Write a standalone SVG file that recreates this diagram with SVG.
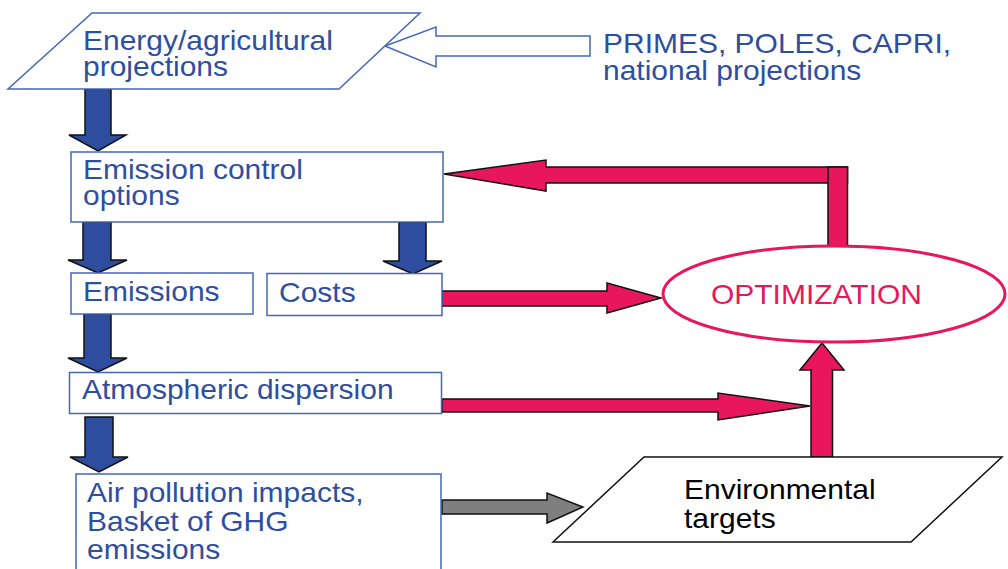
<svg xmlns="http://www.w3.org/2000/svg" width="1008" height="569" viewBox="0 0 1008 569">
<style>
.t{font-family:"Liberation Sans",Arial,sans-serif;font-size:30px;fill:#2e4ea0}
.tk{fill:#000}
.tm{fill:#e8175d}
.box{fill:#fff;stroke:#4466bb;stroke-width:1.5}
.blue{fill:#2e4d9f;stroke:#111;stroke-width:1.5;stroke-linejoin:miter}
.mag{fill:#e8175d;stroke:#111;stroke-width:1.5}
.gray{fill:#7f7f7f;stroke:#111;stroke-width:1.5}
.hollow{fill:#fff;stroke:#4466bb;stroke-width:1.5}
</style>
<rect width="1008" height="569" fill="#fff"/>
<g id="connectors">
<polygon class="hollow" points="590,36 436,36 436,27 385,46 436,67 436,56 590,56"/>
<polygon class="blue" points="85,89 111,89 111,135 126,135 98,151 69,135 85,135"/>
<polygon class="blue" points="83,222 111,222 111,260 127,260 98,273 68,260 83,260"/>
<polygon class="blue" points="399,222 426,222 426,261 442,261 413,274 383,261 399,261"/>
<polygon class="blue" points="84,314 111,314 111,358 127,358 98,372 68,358 84,358"/>
<polygon class="blue" points="85,417 113,417 113,457 128,457 99,472 70,457 85,457"/>
<polygon class="mag" points="442,291 607,291 607,283 661,298 607,313 607,306 442,306"/>
<polygon class="mag" points="442,399 718,399 718,393 810,406 718,420 718,412 442,412"/>
<polygon class="mag" points="811,457 811,370 800,370 822,343 844,370 832.5,370 832.5,457"/>
<polygon class="mag" points="847.5,167 546,167 546,160 444,174 546,191 546,183 847.5,183"/>
<rect class="mag" x="828" y="167" width="19.5" height="80"/>
<polygon class="gray" points="442,500 547,500 547,493 583,507 547,523 547,514 442,514"/>
</g>
<g id="n-energy">
<polygon class="box" points="92,13 420,13 339,89 8,89"/>
<text class="t" transform="matrix(1 0 0 0.9 83 49.5)">Energy/agricultural</text>
<text class="t" transform="matrix(1 0 0 0.9 83 75.5)">projections</text>
</g>
<g id="n-primes">
<text class="t" transform="matrix(1 0 0 0.9 603 52.5)">PRIMES, POLES, CAPRI,</text>
<text class="t" transform="matrix(1 0 0 0.9 603 79.5)">national projections</text>
</g>
<g id="n-ecopt">
<rect class="box" x="71" y="152" width="372" height="70"/>
<text class="t" transform="matrix(1 0 0 0.9 83 179)">Emission control</text>
<text class="t" transform="matrix(1 0 0 0.9 83 205)">options</text>
</g>
<g id="n-emissions">
<rect class="box" x="71" y="273" width="182" height="41"/>
<text class="t" transform="matrix(1 0 0 0.9 83 301)">Emissions</text>
</g>
<g id="n-costs">
<rect class="box" x="267" y="273.5" width="175" height="42"/>
<text class="t" transform="matrix(1 0 0 0.9 279 302)">Costs</text>
</g>
<g id="n-atmos">
<rect class="box" x="69.5" y="372.5" width="372" height="41"/>
<text class="t" transform="matrix(1 0 0 0.9 82 399)">Atmospheric dispersion</text>
</g>
<g id="n-air">
<rect class="box" x="76" y="474" width="365" height="110"/>
<text class="t" transform="matrix(1 0 0 0.9 87 502)">Air pollution impacts,</text>
<text class="t" transform="matrix(1 0 0 0.9 87 530.5)">Basket of GHG</text>
<text class="t" transform="matrix(1 0 0 0.9 87 559)">emissions</text>
</g>
<g id="n-opt">
<ellipse cx="834" cy="294" rx="171" ry="48" fill="#fff" stroke="#e8175d" stroke-width="3"/>
<text class="t tm" transform="matrix(1 0 0 0.9 711 304)">OPTIMIZATION</text>
</g>
<g id="n-env">
<polygon points="644,457 1002,457 911,542 553,542" fill="#fff" stroke="#111" stroke-width="1.5"/>
<text class="t tk" transform="matrix(1 0 0 0.9 684 499)">Environmental</text>
<text class="t tk" transform="matrix(1 0 0 0.9 684 528)">targets</text>
</g>
</svg>
